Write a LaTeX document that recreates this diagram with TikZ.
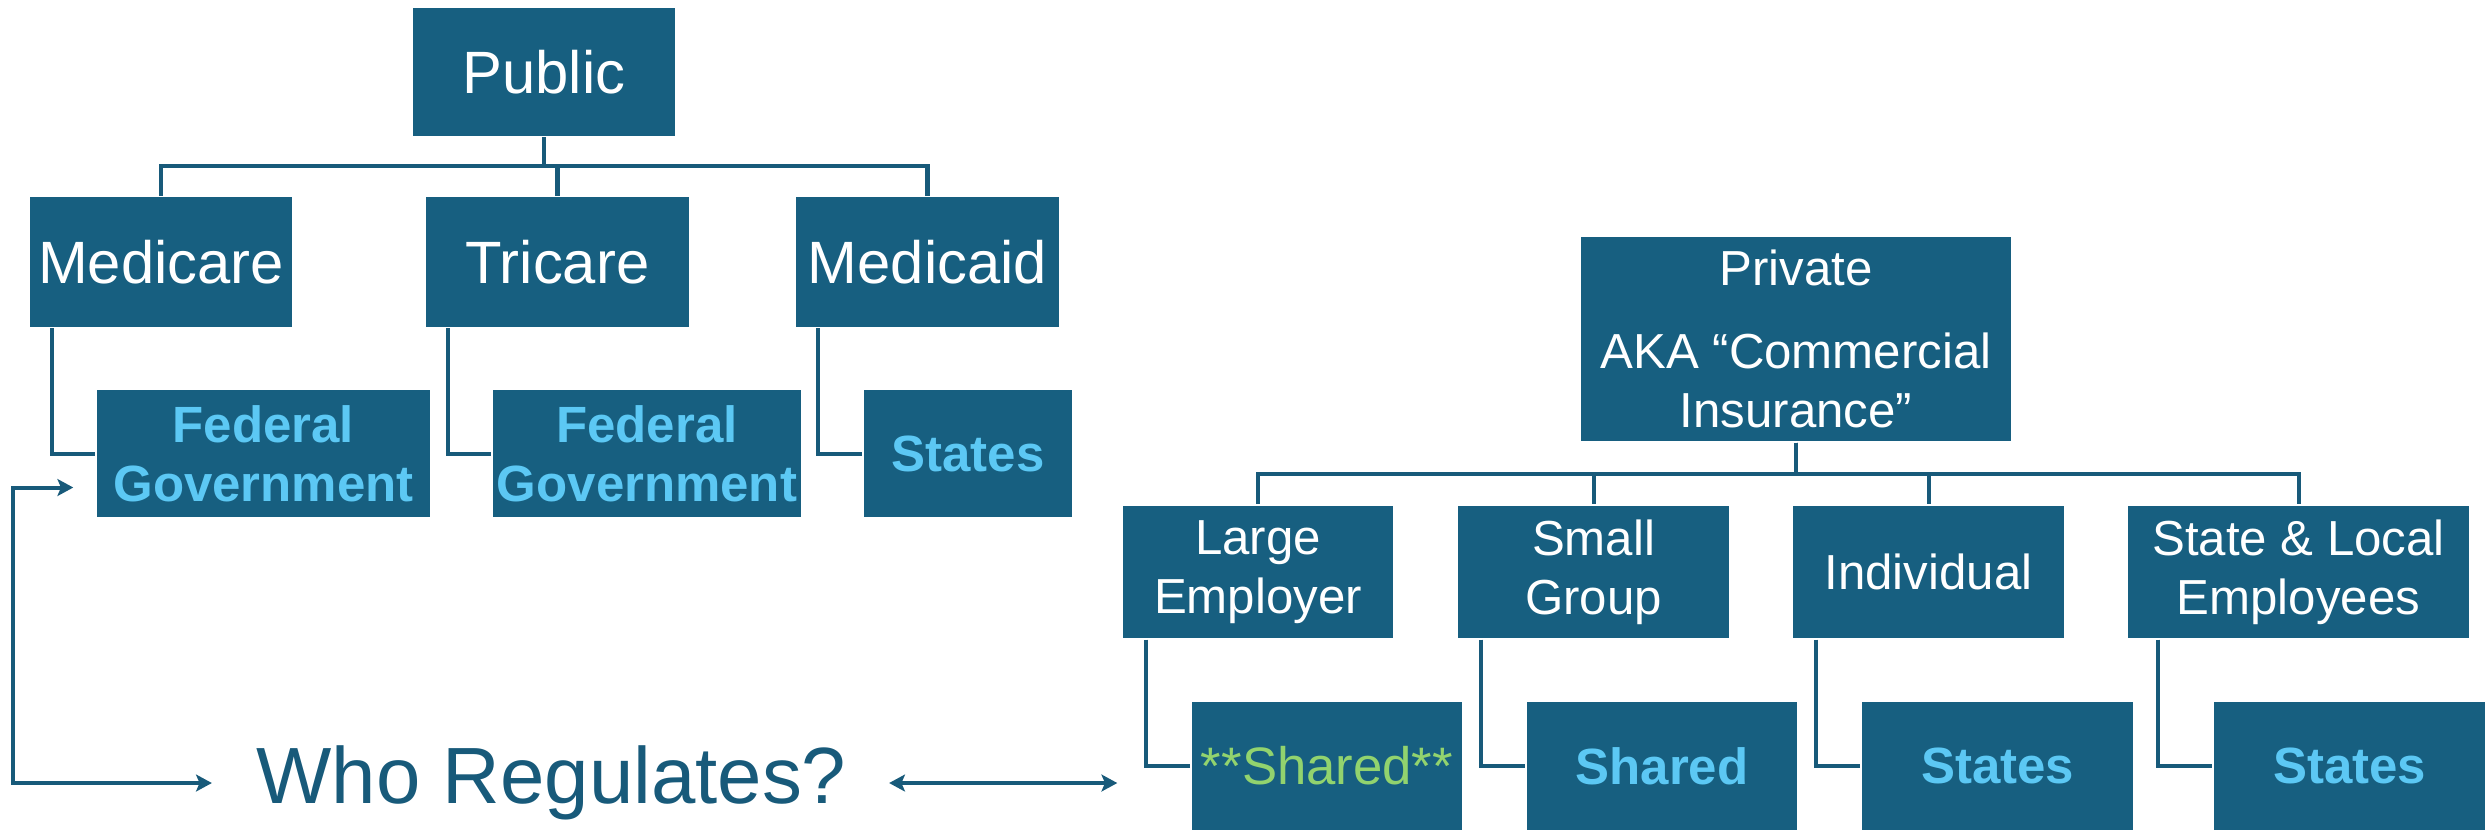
\documentclass[tikz,border=0pt]{standalone}
\usepackage{fontspec}
\setmainfont{Liberation Sans}
\usetikzlibrary{arrows.meta}
\definecolor{boxblue}{RGB}{23,95,128}
\definecolor{lineblue}{RGB}{24,90,122}
\definecolor{textblue}{RGB}{92,200,244}
\definecolor{textgreen}{RGB}{146,211,110}
\begin{document}
\begin{tikzpicture}[
        box/.style={fill=boxblue, draw=white, line width=0.4pt, inner sep=0pt, align=center, text=white},
        toplvl/.style={box, font=\fontsize{17}{20}\selectfont},
        sublvl/.style={box, font=\fontsize{14}{16.8}\selectfont},
        who/.style={box, font=\bfseries\fontsize{14.5}{16.8}\selectfont, text=textblue},
        link/.style={draw=lineblue, line width=1.15pt},
        >={Stealth[length=4.5pt,width=4.8pt,inset=1pt]}]
        \useasboundingbox (0,0) rectangle (24.86,-8.36);
        % public side
        \node[toplvl, minimum width=2.64cm, minimum height=1.29cm] (pub) at (5.44,-0.72) {Public};
        \node[toplvl, minimum width=2.64cm, minimum height=1.31cm] (med) at (1.61,-2.62) {Medicare};
        \node[toplvl, minimum width=2.65cm, minimum height=1.31cm] (tri) at (5.575,-2.62) {Tricare};
        \node[toplvl, minimum width=2.65cm, minimum height=1.31cm] (mcd) at (9.275,-2.62) {Medicaid};
        \node[who, minimum width=3.35cm, minimum height=1.29cm] (fed1) at (2.635,-4.535) {Federal\\Government};
        \node[who, minimum width=3.10cm, minimum height=1.29cm] (fed2) at (6.47,-4.535) {Federal\\Government};
        \node[who, minimum width=2.10cm, minimum height=1.29cm] (stP) at (9.68,-4.535) {States};
        \draw[link] (pub.south) -- ++(0,-0.29) -| (med.north);
        \draw[link] (pub.south) -- ++(0,-0.29) -| (tri.north);
        \draw[link] (pub.south) -- ++(0,-0.29) -| (mcd.north);
        \draw[link] ([xshift=0.24cm]med.south west) |- (fed1.west);
        \draw[link] ([xshift=0.24cm]tri.south west) |- (fed2.west);
        \draw[link] ([xshift=0.24cm]mcd.south west) |- (stP.west);
        % private side
        \node[sublvl, minimum width=4.32cm, minimum height=2.06cm] (pri) at (17.96,-3.39) {Private\\[0.24cm]AKA “Commercial\\Insurance”};
        \node[sublvl, minimum width=2.72cm, minimum height=1.34cm] (lrg) at (12.58,-5.72) {Large\\Employer};
        \node[sublvl, minimum width=2.73cm, minimum height=1.34cm] (sml) at (15.935,-5.72) {Small\\Group};
        \node[sublvl, minimum width=2.73cm, minimum height=1.34cm] (ind) at (19.285,-5.72) {Individual};
        \node[sublvl, minimum width=3.43cm, minimum height=1.34cm] (sal) at (22.985,-5.72) {State \& Local\\Employees};
        \node[box, font=\fontsize{15}{18}\selectfont, text=textgreen, minimum width=2.72cm, minimum height=1.30cm] (shA) at (13.27,-7.66) {**Shared**};
        \node[who, minimum width=2.72cm, minimum height=1.30cm] (shB) at (16.62,-7.66) {Shared};
        \node[who, minimum width=2.73cm, minimum height=1.30cm] (stA) at (19.975,-7.66) {States};
        \node[who, minimum width=2.73cm, minimum height=1.30cm] (stB) at (23.495,-7.66) {States};
        \draw[link] (pri.south) -- ++(0,-0.31) -| (lrg.north);
        \draw[link] (pri.south) -- ++(0,-0.31) -| (sml.north);
        \draw[link] (pri.south) -- ++(0,-0.31) -| (ind.north);
        \draw[link] (pri.south) -- ++(0,-0.31) -| (sal.north);
        \draw[link] ([xshift=0.25cm]lrg.south west) |- (shA.west);
        \draw[link] ([xshift=0.25cm]sml.south west) |- (shB.west);
        \draw[link] ([xshift=0.25cm]ind.south west) |- (stA.west);
        \draw[link] ([xshift=0.32cm]sal.south west) |- (stB.west);
        % who regulates
        \node[inner sep=0.1cm, text=lineblue, font=\fontsize{22.7}{26}\selectfont] (reg) at (5.515,-7.83) {Who Regulates?};
        \coordinate (lft) at (0.13,-7.83);
        \draw[link, <->, shorten <=0.22cm, shorten >=0.34cm] ([yshift=-0.34cm]fed1.west) -| (lft) -- (reg.west);
        \draw[link, <->, shorten <=0.32cm, shorten >=0.73cm] (reg.east) -- (shA.west |- reg.east);
\end{tikzpicture}
\end{document}
